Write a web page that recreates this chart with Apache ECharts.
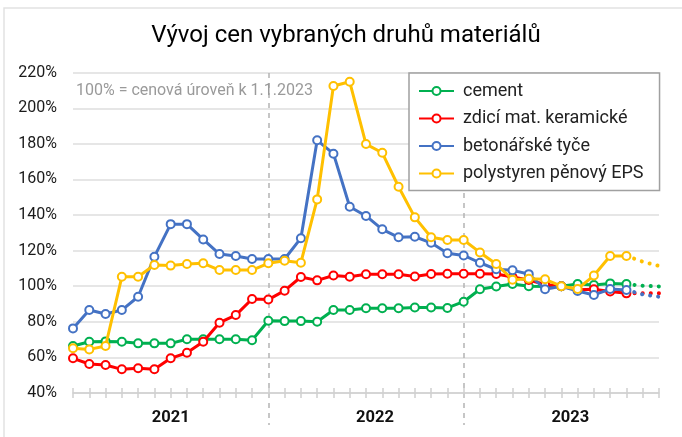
<!DOCTYPE html>
<html>
<head>
<meta charset="utf-8">
<script src="https://cdn.jsdelivr.net/npm/echarts@6/dist/echarts.min.js"></script>
<style>
html,body{margin:0;padding:0;background:#fff;}
#c{width:682px;height:437px;}
</style>
</head>
<body>
<div id="c"></div>
<script>
// Monthly categories (index 30 = 1/2023 = 100 %)
const months = ['7/2020','8/2020','9/2020','10/2020','11/2020','12/2020',
  '1/2021','2/2021','3/2021','4/2021','5/2021','6/2021','7/2021','8/2021','9/2021','10/2021','11/2021','12/2021',
  '1/2022','2/2022','3/2022','4/2022','5/2022','6/2022','7/2022','8/2022','9/2022','10/2022','11/2022','12/2022',
  '1/2023','2/2023','3/2023','4/2023','5/2023','6/2023','7/2023'];
const yearLabelMonths = ['1/2021','1/2022','1/2023'];
const yTicks = [40, 60, 80, 100, 120, 140, 160, 180, 200, 220];

const cement = [66.4,68.8,69,68.8,67.9,67.9,67.9,70.2,70.2,70.2,70.2,69.6,
  80.6,80.4,80.4,80,86.6,86.6,87.6,87.6,87.6,88,88,87.8,
  91.3,98.3,99.9,101.3,100,99.8,100,101.3,100.7,101.6,101.2];
const zdici = [59.5,56.3,55.7,53.3,53.9,53.3,59.5,62.6,68.8,79.5,83.8,92.8,
  92.5,97.5,105.2,103.3,106,105.3,106.7,106.7,106.7,105.5,106.9,107,
  107,107,106.9,105.2,103.5,101,100,98,98.3,97,96];
const betonarske = [76.3,86.6,84.4,86.6,94.1,116.6,134.9,134.9,126.3,118.1,117,115.3,
  115.3,115.3,127,182,174.5,144.7,139.5,132,127.5,127.8,124.4,118.5,
  117.3,113.2,109.5,109,106.8,98.3,100,97.3,95.1,98.4,97.9];
const polystyren = [65.1,64.5,66.4,105.3,105.3,111.9,111.6,112.5,112.9,109.1,109.1,109.1,
  112.9,114.3,113.2,148.8,212.5,214.9,179.9,175,155.9,138.7,127.5,126,
  126,119,112.5,103.7,104.2,103.9,100,98.5,106,117,117];
// outlook (dotted) from last month on
const cementOutlook = [101.2,100.3,99.9];
const zdiciOutlook = [96,96,96];
const betonarskeOutlook = [97.9,95.4,94.1];
const polystyrenOutlook = [117,113.8,111.4];

const names = ['cement','zdicí mat. keramické','betonářské tyče','polystyren pěnový EPS'];
const colors = ['#00B050','#FF0000','#4472C4','#FFC000'];
const values = [cement, zdici, betonarske, polystyren];
const outlooks = [cementOutlook, zdiciOutlook, betonarskeOutlook, polystyrenOutlook];

const FONT = 'Roboto, "Noto Sans", sans-serif';
const chart = echarts.init(document.getElementById('c'), null, {renderer:'canvas'});

const series = [];
values.forEach((v, k) => {
  series.push({
    name: names[k], type: 'line', data: v, color: colors[k],
    symbol: 'emptyCircle', symbolSize: 8, showAllSymbol: true,
    lineStyle: {width: 3, color: colors[k]},
    itemStyle: {color: colors[k], borderWidth: 2.2, borderColor: colors[k]},
    emphasis: {disabled: true}, z: 3 + k, animation: false
  });
});
outlooks.forEach((o, k) => {
  const start = values[k].length - 1;
  const d = new Array(start).fill(null).concat(o);
  series.push({
    name: names[k] + ' výhled', type: 'line', data: d, color: colors[k],
    showSymbol: false, symbol: 'none',
    lineStyle: {width: 4, color: colors[k], type: [0.1, 8], cap: 'round'},
    emphasis: {disabled: true}, z: 2, animation: false
  });
});
// helper series for dashed separators in second grid
series.push({type:'line', xAxisIndex:1, yAxisIndex:1, data: [], silent:true});

const option = {
  animation: false,
  textStyle: {fontFamily: FONT},
  graphic: [
    {type:'rect', z:-10, shape:{x:4, y:8, width:720, height:480}, style:{fill:'#fff', stroke:'#e2e2e2', lineWidth:1.5}},
    {type:'text', x:346, y:36, style:{text:'Vývoj cen vybraných druhů materiálů', font:'24px '+FONT, fill:'#000', textAlign:'center', textVerticalAlign:'middle'}},
    {type:'text', x:76, y:91, style:{text:'100% = cenová úroveň k 1.1.2023', font:'16px '+FONT, fill:'#9a9a9a', textAlign:'left', textVerticalAlign:'middle'}, z:1}
  ],
  legend: {
    data: names, orient: 'vertical', left: 409, top: 73,
    padding: [9, 16, 8, 9], itemGap: 9.5, itemWidth: 35, itemHeight: 10,
    backgroundColor: '#fff', borderColor: '#a0a0a0', borderWidth: 1.5,
    textStyle: {fontSize: 18, lineHeight: 15, color: '#222', fontFamily: FONT, padding:[0,0,0,4]},
    selectedMode: false
  },
  grid: [
    {left: 73, right: 23, top: 72.7, bottom: 44, containLabel: false},
    {left: 73, right: 23, top: 73, bottom: 12, containLabel: false}
  ],
  xAxis: [
    {type:'category', data: months, boundaryGap:false, gridIndex:0,
     axisLine:{show:true, lineStyle:{color:'#d0d0d0', width:1.5}},
     axisTick:{show:true, interval:0, length:5, lineStyle:{color:'#d0d0d0', width:1.5}},
     axisLabel:{show:true, interval:(i, v) => yearLabelMonths.indexOf(v) >= 0, margin:16,
       formatter:(v) => { const y = v.split('/')[1]; return y === '2021' ? '{a|' + y + '}' : '{b|' + y + '}'; },
       rich:{a:{fontSize:16.5, fontWeight:'bold', color:'#111', fontFamily:FONT},
             b:{fontSize:16.5, fontWeight:'bold', color:'#111', fontFamily:FONT, padding:[0,0,0,18]}}},
     splitLine:{show:false}},
    {type:'category', data: months, boundaryGap:false, gridIndex:1,
     axisLine:{show:false}, axisTick:{show:false}, axisLabel:{show:false},
     splitLine:{show:true, interval:(i) => i === 12 || i === 24,
       lineStyle:{color:'#b4b4b4', width:1.5, type:[5,5]}}},
    {type:'category', data: months, boundaryGap:false, gridIndex:0, position:'bottom',
     axisLine:{show:false}, axisLabel:{show:false},
     axisTick:{show:true, inside:true, interval:0, length:5, lineStyle:{color:'#d0d0d0', width:1.5}}}
  ],
  yAxis: [
    {type:'value', min: yTicks[0], max: yTicks[yTicks.length-1], interval: 20, gridIndex:0,
     axisLine:{show:false}, axisTick:{show:false},
     axisLabel:{formatter:'{value}%', fontSize:16, color:'#1a1a1a', margin:16, fontFamily:FONT},
     splitLine:{show:true, lineStyle:{color:'#dedede', width:1.5}}},
    {type:'value', gridIndex:1, show:false, min:0, max:1}
  ],
  series: series
};
chart.setOption(option);
</script>
</body>
</html>
